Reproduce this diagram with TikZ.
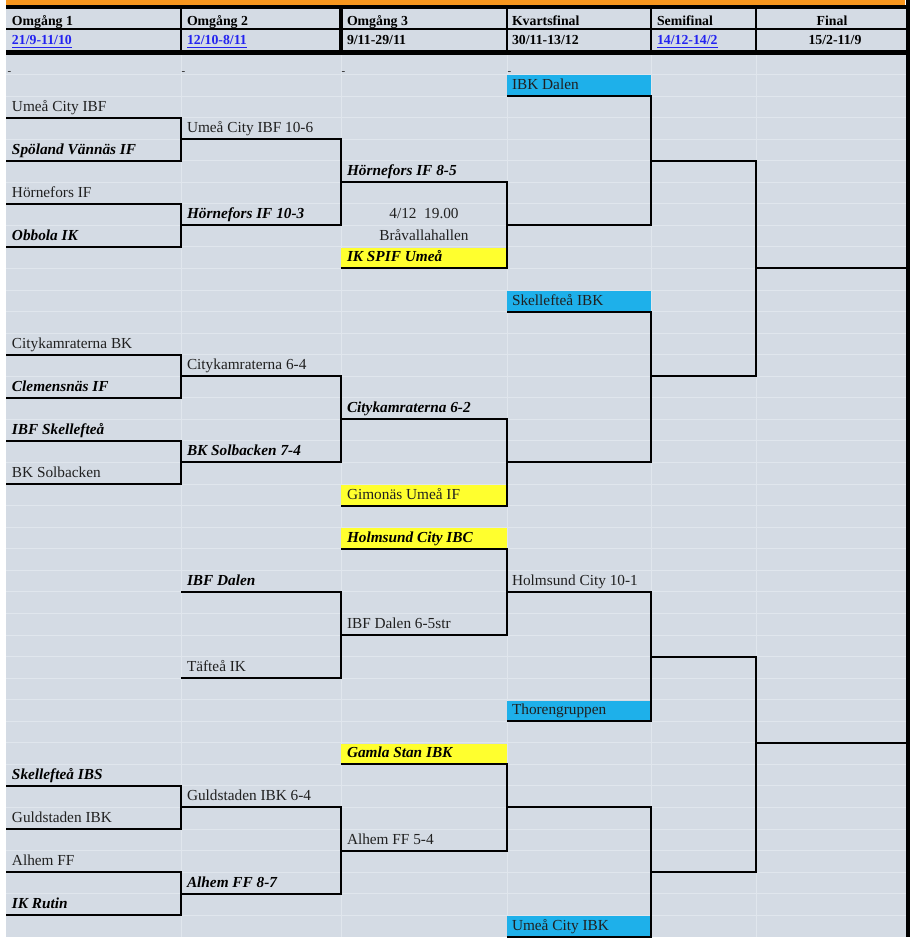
\documentclass[tikz,border=0pt]{standalone}
\usepackage{fontspec}
\setmainfont{Liberation Serif}
\definecolor{bg}{RGB}{212,219,228}
\definecolor{gridc}{RGB}{224,230,237}
\definecolor{orng}{RGB}{247,150,30}
\definecolor{cyanbox}{RGB}{30,176,234}
\definecolor{yelbox}{RGB}{255,255,46}
\definecolor{lnk}{RGB}{35,35,240}
\definecolor{txtgray}{RGB}{32,32,32}
\newcommand{\RB}[1]{(74.4+21.56*(#1))}
\newcommand{\brk}[4]{\draw[br] (#1,{\RB{#3}}) -| (#2,{\RB{#4}}) -- (#1,{\RB{#4}});}
\tikzset{
  tx/.style={anchor=base west, inner sep=0pt, outer sep=0pt, text=txtgray, font=\fontsize{15.3}{18}\selectfont},
  tb/.style={tx, text=black, font=\fontsize{15.3}{18}\selectfont\bfseries\itshape},
  tc/.style={tx, anchor=base},
  hd/.style={anchor=base west, inner sep=0pt, outer sep=0pt, font=\fontsize{13.8}{16}\selectfont\bfseries, text=black},
  hdc/.style={hd, anchor=base},
  hdl/.style={hd, text=lnk},
  br/.style={draw=black, line width=2pt, line join=miter},
  dashtxt/.style={anchor=base west, inner sep=0pt, outer sep=0pt, font=\fontsize{11}{12}\selectfont, text=txtgray},
  cbox/.style={fill=cyanbox},
  ybox/.style={fill=yelbox},
}
\begin{document}
\begin{tikzpicture}[x=1pt,y=-1pt]
\useasboundingbox (0,0) rectangle (917,945);
\fill[white] (0,0) rectangle (917,945);
% background
\fill[orng] (6,0) rectangle (905,6);
\fill[bg] (6,6) rectangle (906,937);
% grid lines
\foreach \r in {0,...,39} {\draw[gridc, line width=0.9pt] (6,{\RB{\r}}) -- (906,{\RB{\r}});}
\foreach \x in {181,341,507,651,756} {\draw[gridc, line width=0.9pt] (\x,55) -- (\x,937);}
% coloured boxes
\foreach \r in {1,11,30,40} {\fill[cbox] (507,{\RB{\r-1}+1}) rectangle (651,{\RB{\r}});}
\foreach \r in {9,20,22,32} {\fill[ybox] (341,{\RB{\r-1}+1}) rectangle (507,{\RB{\r}});}
% header lines
\fill[black] (6,5) rectangle (906,9);
\fill[black] (6,27.5) rectangle (906,30);
\fill[black] (6,50) rectangle (906,55);
\draw[line width=2.5pt] (181,5) -- (181,55);
\draw[line width=4pt] (341,5) -- (341,55);
\foreach \x in {507,651,756} {\draw[line width=2pt] (\x,5) -- (\x,55);}
\fill[black] (906,0) rectangle (910,937);
% header text
\node[hd] (h1) at (12,25) {Omgång 1};
\node[hd] (h2) at (187,25) {Omgång 2};
\node[hd] (h3) at (347,25) {Omgång 3};
\node[hd] (h4) at (512,25) {Kvartsfinal};
\node[hd] (h5) at (657,25) {Semifinal};
\node[hdc] (h6) at (832,25) {Final};
\node[hdl] (d1) at (12,44) {21/9-11/10};
\node[hdl] (d2) at (187,44) {12/10-8/11};
\node[hd] (d3) at (347,44) {9/11-29/11};
\node[hd] (d4) at (512,44) {30/11-13/12};
\node[hdl] (d5) at (657,44) {14/12-14/2};
\node[hdc] (d6) at (835,44) {15/2-11/9};
\foreach \n in {d1,d2,d5} {\draw[lnk, line width=1pt] (\n.base west) ++(0,3.7) -- ([yshift=-3.7pt]\n.base east);}
% dashes in first row
\node[dashtxt] (m1) at (7.5,74) {-};
\node[dashtxt] (m2) at (181.5,74) {-};
\node[dashtxt] (m3) at (341.5,74) {-};
\node[dashtxt] (m4) at (507.5,74) {-};
% brackets
\brk{6}{181}{2}{4}
\brk{6}{181}{6}{8}
\brk{6}{181}{13}{15}
\brk{6}{181}{17}{19}
\brk{6}{181}{33}{35}
\brk{6}{181}{37}{39}
\brk{181}{341}{3}{7}
\brk{181}{341}{14}{18}
\brk{181}{341}{24}{28}
\brk{181}{341}{34}{38}
\brk{341}{507}{5}{9}
\brk{341}{507}{16}{20}
\brk{341}{507}{22}{26}
\brk{341}{507}{32}{36}
\brk{507}{651}{1}{7}
\brk{507}{651}{11}{18}
\brk{507}{651}{24}{30}
\brk{507}{651}{34}{40}
\brk{651}{756}{4}{14}
\brk{651}{756}{27}{37}
\draw[br] (756,{\RB{9}}) -- (906,{\RB{9}});
\draw[br] (756,{\RB{31}}) -- (906,{\RB{31}});
% column 1
\node[tx] (a1) at (12,{\RB{2}-6.5}) {Umeå City IBF};
\node[tb] (a2) at (12,{\RB{4}-6.5}) {Spöland Vännäs IF};
\node[tx] (a3) at (12,{\RB{6}-6.5}) {Hörnefors IF};
\node[tb] (a4) at (12,{\RB{8}-6.5}) {Obbola IK};
\node[tx] (a5) at (12,{\RB{13}-6.5}) {Citykamraterna BK};
\node[tb] (a6) at (12,{\RB{15}-6.5}) {Clemensnäs IF};
\node[tb] (a7) at (12,{\RB{17}-6.5}) {IBF Skellefteå};
\node[tx] (a8) at (12,{\RB{19}-6.5}) {BK Solbacken};
\node[tb] (a9) at (12,{\RB{33}-6.5}) {Skellefteå IBS};
\node[tx] (a10) at (12,{\RB{35}-6.5}) {Guldstaden IBK};
\node[tx] (a11) at (12,{\RB{37}-6.5}) {Alhem FF};
\node[tb] (a12) at (12,{\RB{39}-6.5}) {IK Rutin};
% column 2
\node[tx] (b1) at (187,{\RB{3}-6.5}) {Umeå City IBF 10-6};
\node[tb] (b2) at (187,{\RB{7}-6.5}) {Hörnefors IF 10-3};
\node[tx] (b3) at (187,{\RB{14}-6.5}) {Citykamraterna 6-4};
\node[tb] (b4) at (187,{\RB{18}-6.5}) {BK Solbacken 7-4};
\node[tb] (b5) at (187,{\RB{24}-6.5}) {IBF Dalen};
\node[tx] (b6) at (187,{\RB{28}-6.5}) {Täfteå IK};
\node[tx] (b7) at (187,{\RB{34}-6.5}) {Guldstaden IBK 6-4};
\node[tb] (b8) at (187,{\RB{38}-6.5}) {Alhem FF 8-7};
% column 3
\node[tb] (c1) at (347,{\RB{5}-6.5}) {Hörnefors IF 8-5};
\node[tc] (c2) at (424,{\RB{7}-6.5}) {4/12\ \ 19.00};
\node[tc] (c3) at (424,{\RB{8}-6.5}) {Bråvallahallen};
\node[tb] (c4) at (347,{\RB{9}-6.5}) {IK SPIF Umeå};
\node[tb] (c5) at (347,{\RB{16}-6.5}) {Citykamraterna 6-2};
\node[tx] (c6) at (347,{\RB{20}-6.5}) {Gimonäs Umeå IF};
\node[tb] (c7) at (347,{\RB{22}-6.5}) {Holmsund City IBC};
\node[tx] (c8) at (347,{\RB{26}-6.5}) {IBF Dalen 6-5str};
\node[tb] (c9) at (347,{\RB{32}-6.5}) {Gamla Stan IBK};
\node[tx] (c10) at (347,{\RB{36}-6.5}) {Alhem FF 5-4};
% column 4
\node[tx] (e1) at (512,{\RB{1}-6.5}) {IBK Dalen};
\node[tx] (e2) at (512,{\RB{11}-6.5}) {Skellefteå IBK};
\node[tx] (e3) at (512,{\RB{24}-6.5}) {Holmsund City 10-1};
\node[tx] (e4) at (512,{\RB{30}-6.5}) {Thorengruppen};
\node[tx] (e5) at (512,{\RB{40}-6.5}) {Umeå City IBK};
\end{tikzpicture}
\end{document}
